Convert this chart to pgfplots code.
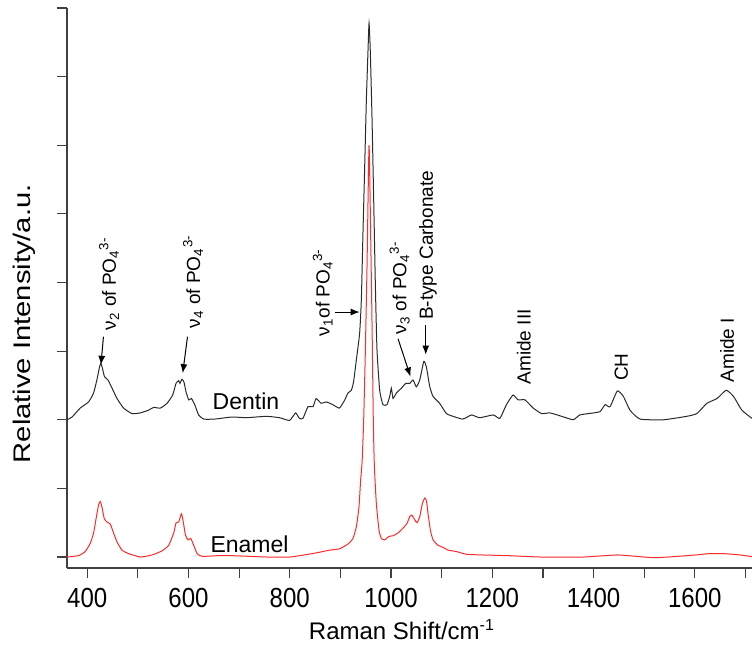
\documentclass[border=0pt]{standalone}
\usepackage{fontspec}
\setmainfont{Liberation Sans}
\usepackage{graphicx}
\usepackage{pgfplots}
\usepackage{pgfplotstable}
\pgfplotsset{compat=1.18}
\usetikzlibrary{arrows.meta}
\definecolor{axgray}{HTML}{404040}
\definecolor{dentin}{HTML}{2A2A2A}
\definecolor{enamel}{HTML}{FF2A2A}
\tikzset{
  anot/.style={rotate=90, anchor=west, inner sep=0pt, font=\fontsize{9.5}{11}\selectfont},
  arr/.style={-{Latex[length=4.5pt,width=3.5pt]}, line width=0.5pt, black},
}
\newcommand{\tl}[1]{\scalebox{1}[1.15]{#1}}

\pgfplotstableread{
x y
360 2.00
370 2.04
386 2.17
402.6 2.26
412.5 2.39
419 2.58
424.3 2.77
427 2.82
430 2.75
434 2.63
441 2.58
449 2.46
458.8 2.31
471.8 2.17
488.4 2.09
504.8 2.10
521 2.14
531 2.18
544.4 2.17
557.6 2.24
568.7 2.36
575.3 2.53
580.6 2.57
583 2.53
587 2.59
591 2.55
595 2.41
600.4 2.29
605.7 2.31
612.3 2.22
620 2.07
630 2.01
651.6 2.01
686 2.04
714 2.03
753.5 2.05
780 2.03
799.6 1.99
811.5 2.10
819 2.02
826 2.02
836 2.19
846 2.19
852 2.31
862 2.24
872 2.26
885 2.22
898 2.17
908 2.28
915 2.39
921.6 2.43
926 2.55
931.5 2.87
938 3.26
941.4 3.75
944.6 4.72
948 5.69
951.3 6.66
954.6 7.39
956.6 7.78
959 7.39
962.4 6.42
965.8 5.20
969 3.99
972.3 3.02
977.6 2.43
984 2.22
992 2.22
997.4 2.34
1000.7 2.46
1004 2.31
1010.6 2.39
1020.5 2.46
1029 2.53
1037 2.53
1043.5 2.58
1050 2.48
1056.8 2.58
1064.7 2.85
1069.8 2.77
1076.6 2.48
1083 2.34
1096 2.24
1109.5 2.09
1122.6 2.05
1142 2.01
1159 2.07
1175 2.03
1202 2.07
1215 2.02
1228 2.22
1241 2.36
1251 2.29
1264.5 2.29
1281 2.17
1297.5 2.09
1314 2.10
1337 2.05
1360 2.00
1373 2.07
1400 2.10
1413 2.12
1423 2.22
1432.6 2.19
1447 2.42
1459 2.34
1472 2.14
1492 2.01
1538 2.00
1584 2.05
1604 2.09
1624 2.24
1644 2.31
1662 2.43
1676.5 2.34
1693 2.14
1713 2.02
}\dentin

\pgfplotstableread{
x y
360 0.00
382.8 0.02
396 0.08
406 0.20
412.5 0.35
417 0.54
422.4 0.76
425.7 0.81
429 0.73
433.6 0.56
439 0.51
445.5 0.48
452 0.35
458.8 0.22
468.6 0.10
481.7 0.05
504.8 0.00
528 0.03
547.8 0.09
560.8 0.17
570.8 0.35
575.5 0.50
580.6 0.51
586 0.63
589 0.54
594 0.32
599 0.25
604.4 0.27
610.3 0.17
617 0.05
627 0.01
660 0.02
684 0.02
720 0.01
755 0.00
800 0.00
845 0.05
878.7 0.10
898.5 0.12
915 0.19
924.8 0.27
931.5 0.44
936.7 0.73
940 1.12
943 1.40
946 2.00
949 2.90
952.6 4.23
956.6 6.00
960 4.60
962.5 3.40
965 2.00
967 1.35
971 0.78
976.3 0.39
980.9 0.27
987.5 0.25
996 0.30
1004 0.31
1013.8 0.35
1023.7 0.42
1031.6 0.49
1037 0.59
1041.5 0.61
1047 0.54
1051.5 0.50
1056.8 0.59
1062 0.78
1066.7 0.86
1070 0.82
1073 0.64
1077.8 0.39
1083 0.25
1093 0.17
1103 0.14
1112.8 0.10
1129 0.08
1149 0.04
1180 0.03
1230 0.02
1296 0.00
1380 0.00
1449 0.03
1521 -0.01
1602 0.03
1629 0.05
1656 0.05
1690 0.03
1717 0.00
}\enamel

\begin{document}
\begin{tikzpicture}
\useasboundingbox (0,0) rectangle (376pt,325pt);
\begin{axis}[
  at={(33.5pt,41pt)}, anchor=south west,
  scale only axis, width=342.5pt, height=280pt,
  xmin=360, xmax=1713, ymin=-0.16, ymax=8,
  axis x line*=bottom, axis y line*=left,
  axis line style={axgray, line width=0.6pt},
  xtick={400,600,...,1600}, minor xtick={500,700,...,1700},
  xticklabels={\tl{400},\tl{600},\tl{800},\tl{1000},\tl{1200},\tl{1400},\tl{1600}},
  ytick={0,...,8}, yticklabels={},
  tick align=outside, major tick length=5pt, minor tick length=5pt,
  tick style={axgray, line width=0.6pt},
  xticklabel style={font=\fontsize{12}{14}\selectfont, anchor=north, inner sep=0pt, yshift=-5pt},
  xlabel={Raman Shift/cm\textsuperscript{-1}},
  ylabel={\scalebox{1.215}[1]{Relative Intensity/a.u.}},
  every axis x label/.style={at={(axis description cs:0.489,-0.1268)}, anchor=base, font=\fontsize{12}{14}\selectfont},
  every axis y label/.style={at={(axis description cs:-0.0628,0.436)}, anchor=center, rotate=90, font=\fontsize{12}{14}\selectfont},
]
\addplot[dentin, line width=0.5pt, smooth, tension=0.3] table[x=x,y=y] {\dentin};
\addplot[enamel, line width=0.5pt, smooth, tension=0.3] table[x=x,y=y] {\enamel};

\node[font=\fontsize{11.5}{13}\selectfont] at (axis cs:713.5,2.27) {Dentin};
\node[font=\fontsize{11.5}{13}\selectfont] at (axis cs:720.5,0.19) {Enamel};

\node[anot] at (axis cs:443,3.30) {ν\textsubscript{2} of PO\textsubscript{4}\textsuperscript{3-}};
\draw[arr] (axis cs:432,3.21) -- (axis cs:427,2.80);
\node[anot] at (axis cs:609,3.33) {ν\textsubscript{4} of PO\textsubscript{4}\textsuperscript{3-}};
\draw[arr] (axis cs:598,3.21) -- (axis cs:588.6,2.68);
\node[anot] at (axis cs:865,3.21) {ν\textsubscript{1}of PO\textsubscript{4}\textsuperscript{3-}};
\draw[arr] (axis cs:888.6,3.57) -- (axis cs:938,3.57);
\node[anot] at (axis cs:1017,3.24) {ν\textsubscript{3} of PO\textsubscript{4}\textsuperscript{3-}};
\draw[arr] (axis cs:1013.9,3.18) -- (axis cs:1038.4,2.63);
\node[anot] at (axis cs:1073,3.45) {B-type Carbonate};
\draw[arr] (axis cs:1068.6,3.38) -- (axis cs:1068.6,2.95);
\node[anot] at (axis cs:1262.5,2.51) {Amide III};
\node[anot] at (axis cs:1455,2.56) {CH};
\node[anot] at (axis cs:1664,2.54) {Amide I};
\end{axis}
\end{tikzpicture}
\end{document}
